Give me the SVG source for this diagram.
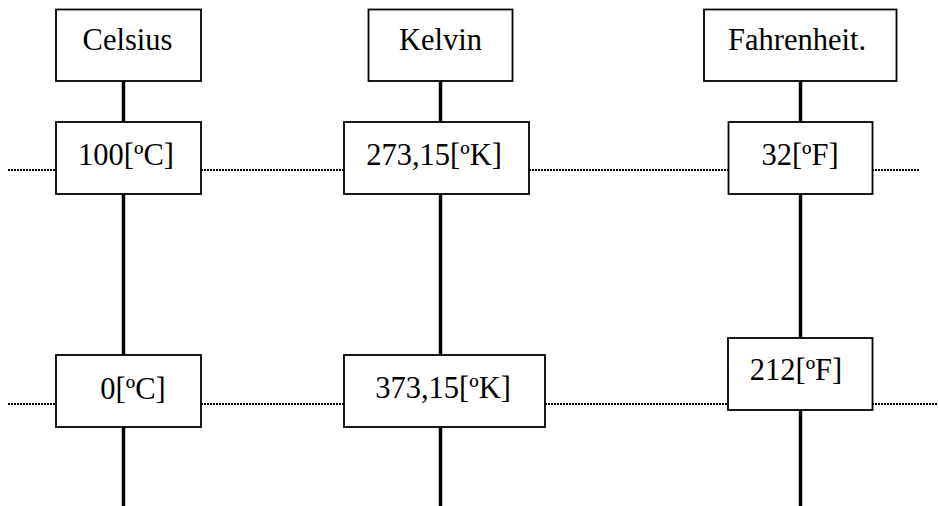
<svg xmlns="http://www.w3.org/2000/svg" width="938" height="506" viewBox="0 0 938 506">
<style>
.box{fill:#fff;stroke:#000;stroke-width:1.8}
.axis{stroke:#000;stroke-width:3.5;fill:none}
.dot{stroke:#000;stroke-width:2;stroke-dasharray:2 1;fill:none}
text{font-family:'Liberation Serif',Tinos,'Times New Roman','DejaVu Serif',serif;font-size:30.5px;fill:#000;text-anchor:middle}
</style>
<rect width="938" height="506" fill="#fff"/>
<g id="connectors">
<line class="axis" x1="123.5" y1="81" x2="123.5" y2="506"/>
<line class="axis" x1="440.5" y1="81" x2="440.5" y2="506"/>
<line class="axis" x1="800.5" y1="81" x2="800.5" y2="506"/>
<line class="dot" x1="8" y1="170" x2="56" y2="170"/>
<line class="dot" x1="201" y1="170" x2="344" y2="170"/>
<line class="dot" x1="529" y1="170" x2="728" y2="170"/>
<line class="dot" x1="872" y1="170" x2="920" y2="170"/>
<line class="dot" x1="8" y1="404" x2="56" y2="404"/>
<line class="dot" x1="201" y1="404" x2="344" y2="404"/>
<line class="dot" x1="545" y1="404" x2="728" y2="404"/>
<line class="dot" x1="872" y1="404" x2="938" y2="404"/>
</g>
<g id="celsius"><rect class="box" x="56" y="9.5" width="145" height="71.5"/><text x="127.5" y="50">Celsius</text></g>
<g id="kelvin"><rect class="box" x="368.5" y="9.5" width="144" height="71.5"/><text x="440.5" y="50">Kelvin</text></g>
<g id="fahrenheit"><rect class="box" x="704" y="9.5" width="192.5" height="71.5"/><text x="797" y="50">Fahrenheit.</text></g>
<g id="c100"><rect class="box" x="56" y="122" width="145" height="72"/><text x="126" y="165">100[ºC]</text></g>
<g id="k273"><rect class="box" x="344" y="122" width="185" height="72"/><text x="434" y="165">273,15[ºK]</text></g>
<g id="f32"><rect class="box" x="728.5" y="122" width="144" height="72"/><text x="800" y="165">32[ºF]</text></g>
<g id="c0"><rect class="box" x="56" y="355" width="145" height="72"/><text x="133" y="399">0[ºC]</text></g>
<g id="k373"><rect class="box" x="344" y="355" width="201" height="72"/><text x="443" y="398">373,15[ºK]</text></g>
<g id="f212"><rect class="box" x="728" y="338" width="144.5" height="72"/><text x="796" y="380">212[ºF]</text></g>
</svg>
